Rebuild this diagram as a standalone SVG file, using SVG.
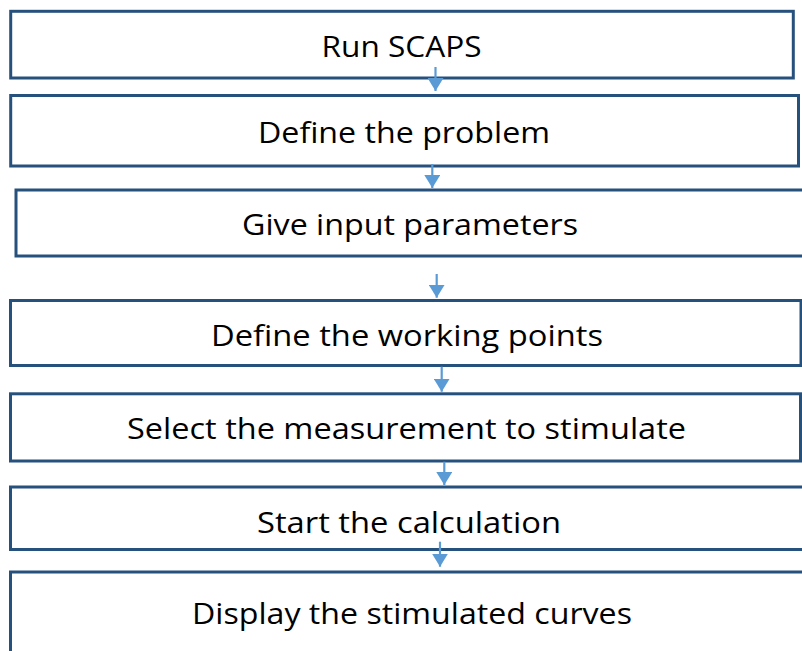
<svg xmlns="http://www.w3.org/2000/svg" width="802" height="651" viewBox="0 0 802 651">
  <style>
    .box { fill: #ffffff; stroke: #27517d; stroke-width: 3; }
    .lbl { font-family: "Open Sans", "Liberation Sans", sans-serif; font-size: 30px; fill: #000000; text-anchor: middle; }
    .flow { stroke: #5b9bd5; stroke-width: 2.2; fill: none; }
  </style>
  <defs>
    <marker id="head" markerUnits="userSpaceOnUse" markerWidth="16" markerHeight="16" refX="13" refY="8" orient="auto">
      <path d="M0,0 L13,8 L0,16 Z" fill="#5b9bd5"/>
    </marker>
  </defs>
  <rect width="802" height="651" fill="#ffffff"/>

  <g id="run-scaps">
    <rect class="box" x="10.7" y="11.3" width="782.6" height="66.7"/>
    <text class="lbl" x="401.5" y="57" textLength="160" lengthAdjust="spacingAndGlyphs">Run SCAPS</text>
  </g>
  <g id="define-problem">
    <rect class="box" x="10.7" y="95.5" width="787.8" height="70.5"/>
    <text class="lbl" x="404" y="143" textLength="292" lengthAdjust="spacingAndGlyphs">Define the problem</text>
  </g>
  <g id="input-parameters">
    <rect class="box" x="16" y="190" width="800" height="66"/>
    <text class="lbl" x="410" y="235" textLength="336" lengthAdjust="spacingAndGlyphs">Give input parameters</text>
  </g>
  <g id="working-points">
    <rect class="box" x="10.5" y="300.5" width="790.5" height="65"/>
    <text class="lbl" x="407" y="346" textLength="392" lengthAdjust="spacingAndGlyphs">Define the working points</text>
  </g>
  <g id="select-measurement">
    <rect class="box" x="10.5" y="393.8" width="790" height="67.2"/>
    <text class="lbl" x="406.5" y="439" textLength="559" lengthAdjust="spacingAndGlyphs">Select the measurement to stimulate</text>
  </g>
  <g id="start-calculation">
    <rect class="box" x="10.5" y="487" width="805" height="62.5"/>
    <text class="lbl" x="409" y="533" textLength="304" lengthAdjust="spacingAndGlyphs">Start the calculation</text>
  </g>
  <g id="display-curves">
    <rect class="box" x="10.5" y="572" width="805" height="100"/>
    <text class="lbl" x="412" y="624" textLength="440" lengthAdjust="spacingAndGlyphs">Display the stimulated curves</text>
  </g>

  <g id="connectors">
    <line class="flow" x1="435.5" y1="67" x2="435.5" y2="91" marker-end="url(#head)"/>
    <line class="flow" x1="432.3" y1="164" x2="432.3" y2="188" marker-end="url(#head)"/>
    <line class="flow" x1="436.7" y1="274" x2="436.7" y2="297.7" marker-end="url(#head)"/>
    <line class="flow" x1="441.7" y1="366.7" x2="441.7" y2="391.7" marker-end="url(#head)"/>
    <line class="flow" x1="444.3" y1="461.7" x2="444.3" y2="485" marker-end="url(#head)"/>
    <line class="flow" x1="440" y1="541.7" x2="440" y2="566.7" marker-end="url(#head)"/>
  </g>
</svg>
